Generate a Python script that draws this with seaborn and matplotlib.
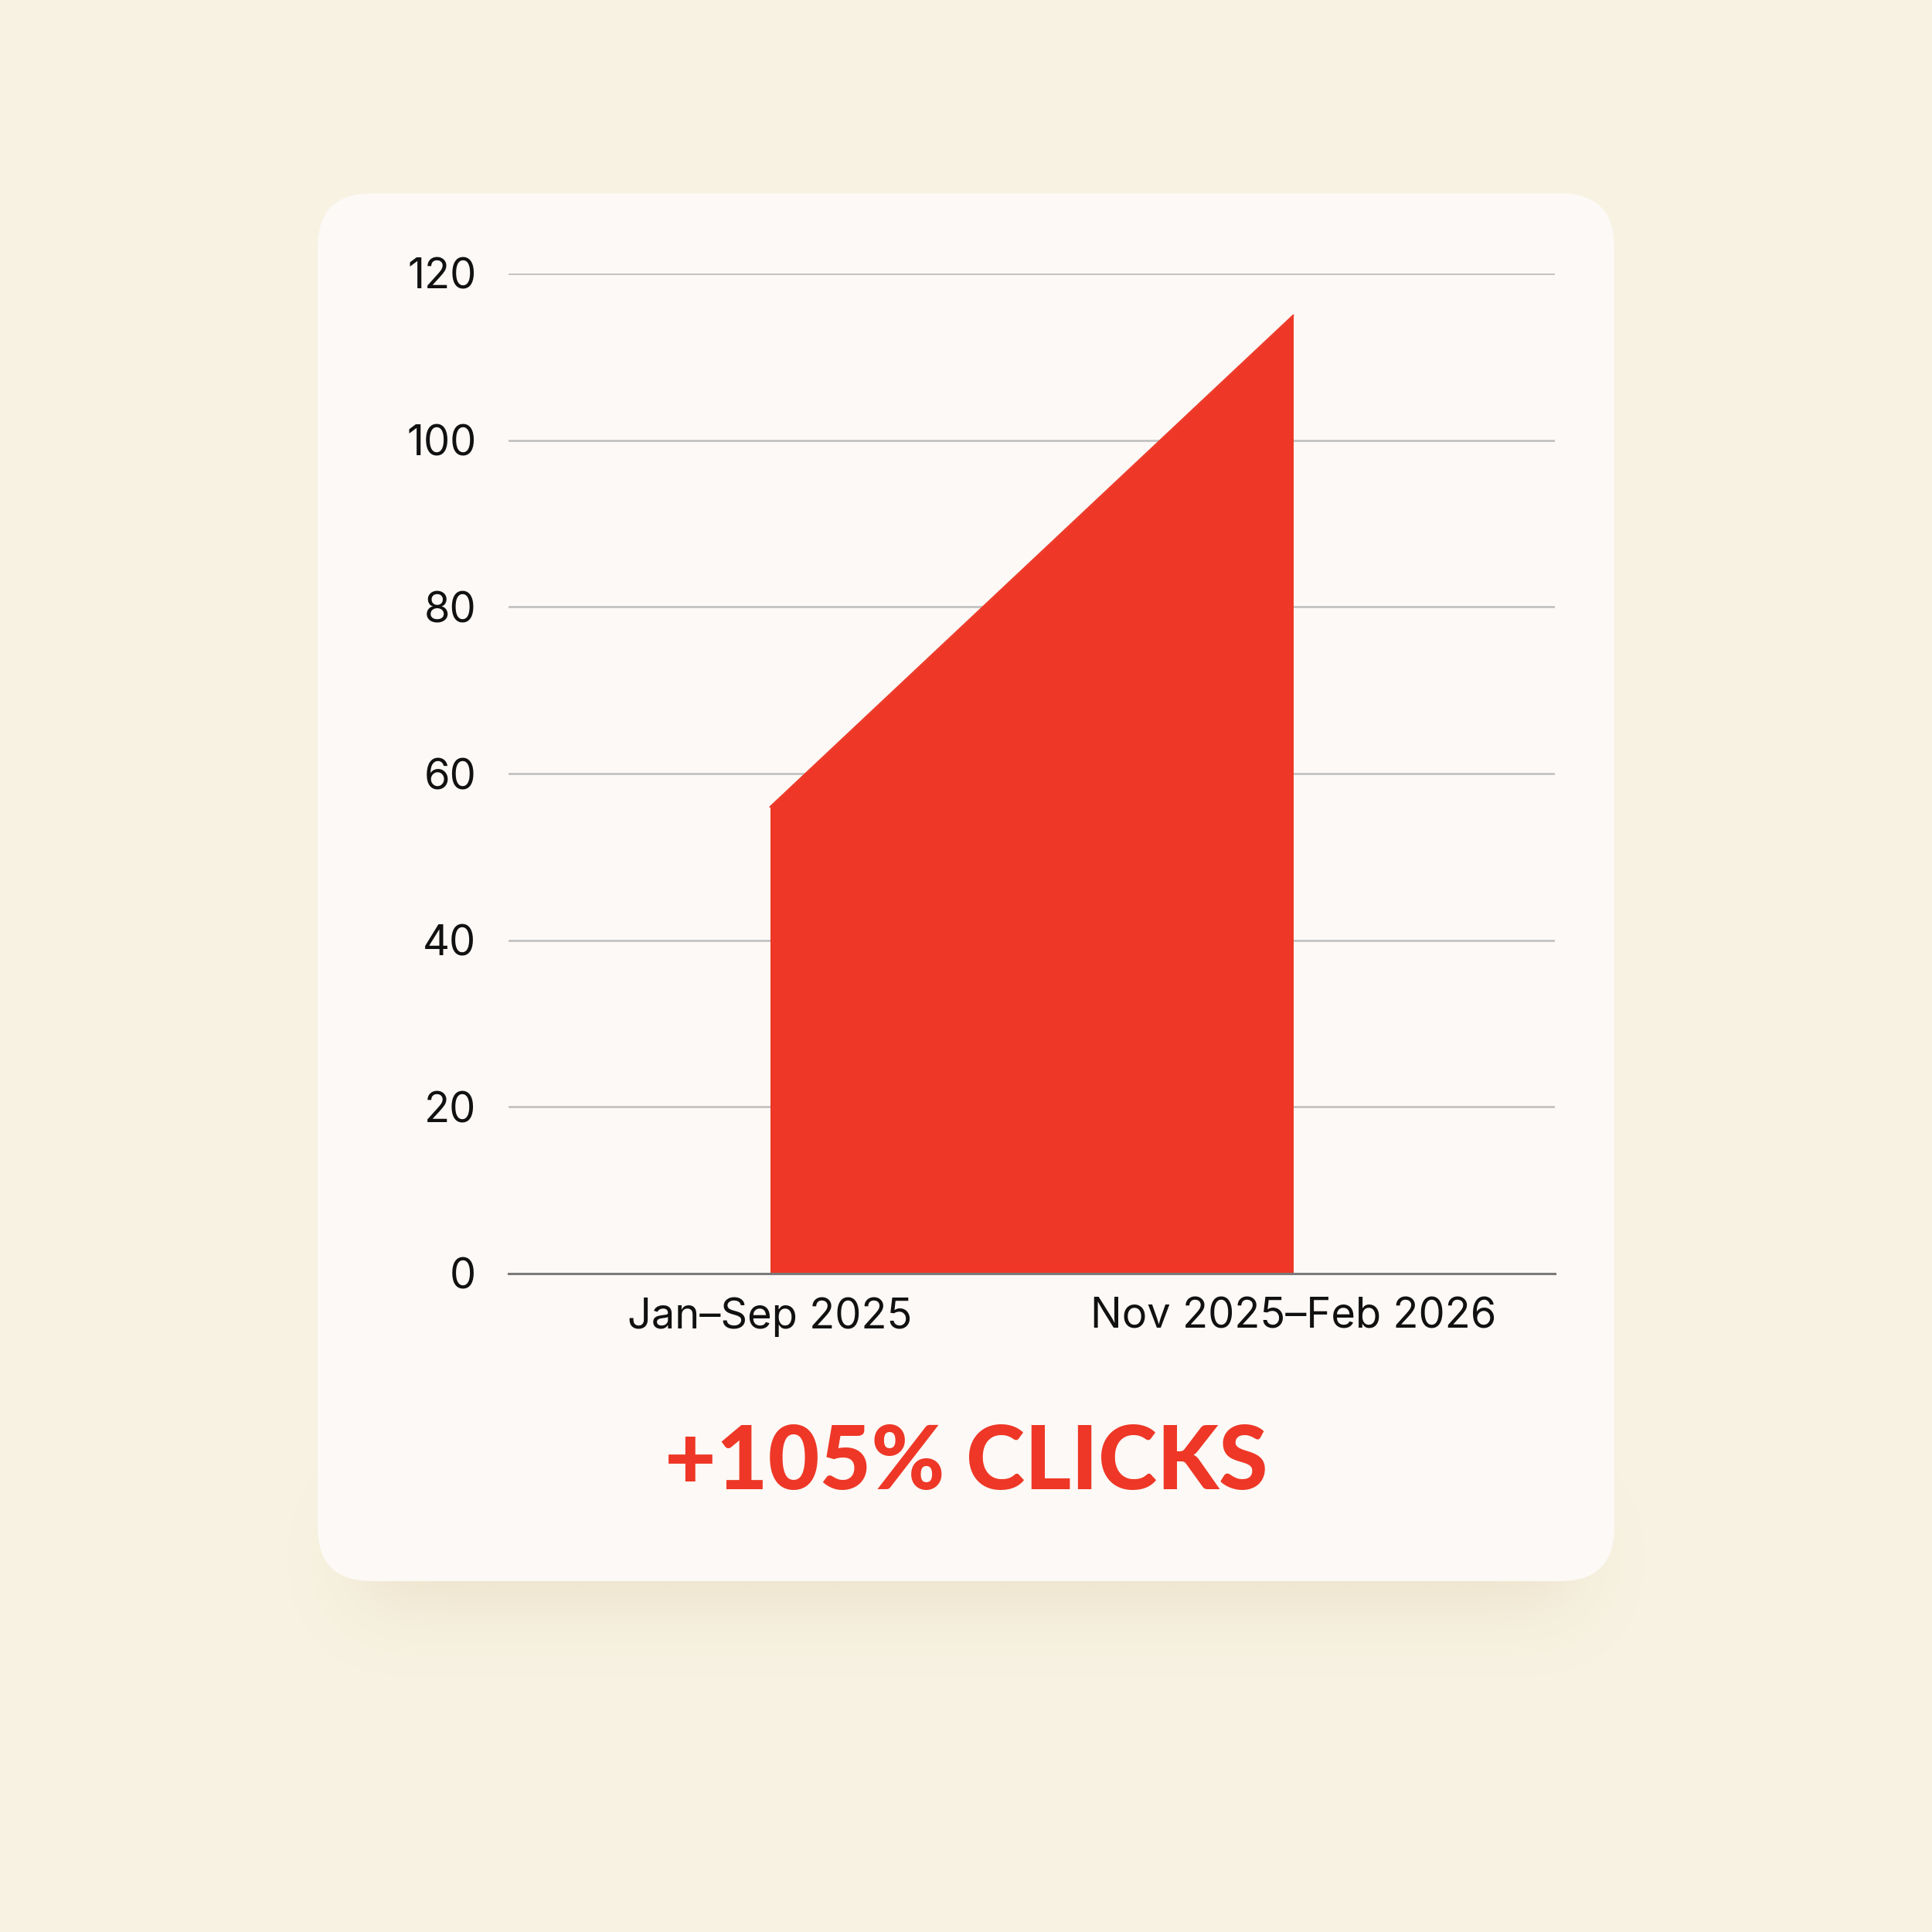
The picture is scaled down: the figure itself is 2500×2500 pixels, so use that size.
import numpy as np
import seaborn as sns
import matplotlib.pyplot as plt
from matplotlib.patches import FancyBboxPatch

# --- data ---
periods = ["Jan–Sep 2025", "Nov 2025–Feb 2026"]
clicks = [56, 115]
y_ticks = [0, 20, 40, 60, 80, 100, 120]
headline = "+105% CLICKS"

# --- colours ---
BG = "#F7F2E1"
CARD = "#FCF9F6"
RED = "#EE3726"
GRID = "#BDBDBD"

sns.set_theme(style="white")
plt.rcParams["font.family"] = ["Inter", "DejaVu Sans"]

W = 2500
fig = plt.figure(figsize=(25, 25), dpi=100, facecolor=BG)

# background layer in pixel coordinates
bg = fig.add_axes([0, 0, 1, 1], zorder=0)
bg.set_xlim(0, W)
bg.set_ylim(W, 0)
bg.axis("off")

# soft shadow under the card
n = 250
gx, gy = np.meshgrid(np.arange(n) * 10 + 5, np.arange(n) * 10 + 5)
mask = ((gx > 470) & (gx < 2030) & (gy > 1960) & (gy < 2070)).astype(float)
k = np.exp(-0.5 * (np.arange(-12, 13) / 4.5) ** 2)
k /= k.sum()
blur = np.apply_along_axis(lambda r: np.convolve(r, k, mode="same"), 1, mask)
blur = np.apply_along_axis(lambda c: np.convolve(c, k, mode="same"), 0, blur)
shadow = np.zeros((n, n, 4))
shadow[..., :3] = np.array([0xDC, 0xC8, 0xA8]) / 255
shadow[..., 3] = blur * 0.4
bg.imshow(shadow, extent=(0, W, W, 0), interpolation="bilinear", zorder=1)

card = FancyBboxPatch((411 + 70, 250 + 70), 1678 - 140, 1796 - 140,
                      boxstyle="round,pad=70", facecolor=CARD,
                      edgecolor="none", zorder=2)
bg.add_patch(card)

# --- chart ---
ax = fig.add_axes([658 / W, 1 - 1648 / W, (2012 - 658) / W, (1648 - 354) / W],
                  zorder=3)
ax.set_facecolor("none")
x = np.arange(len(periods))
ax.fill_between(x, clicks, 0, color=RED, linewidth=0, zorder=3)
sns.lineplot(x=x, y=clicks, ax=ax, color=RED, linewidth=1.5, zorder=3)

ax.set_xlim(-0.5, len(periods) - 0.5)
ax.set_ylim(0, 120)
ax.set_yticks(y_ticks)
ax.set_xticks(x)
ax.set_xticklabels(periods)
ax.yaxis.grid(True, color=GRID, linewidth=1.8, zorder=1)
ax.set_axisbelow(True)
for side in ["top", "right", "left"]:
    ax.spines[side].set_visible(False)
ax.spines["bottom"].set_color("#7A7A7A")
ax.spines["bottom"].set_linewidth(2.2)
ax.spines["bottom"].set_zorder(4)
ax.tick_params(axis="y", length=0, pad=30, labelsize=39, labelcolor="#111111")
ax.tick_params(axis="x", length=0, pad=22, labelsize=39, labelcolor="#111111")
ax.set_xlabel("")
ax.set_ylabel("")

fig.text(0.5, 1 - 1894 / W, headline, ha="center", va="center",
         fontsize=83, color=RED, fontweight="black",
         family=["Lato", "DejaVu Sans"], zorder=5)

fig.savefig("out.png", dpi=100, facecolor=BG)
